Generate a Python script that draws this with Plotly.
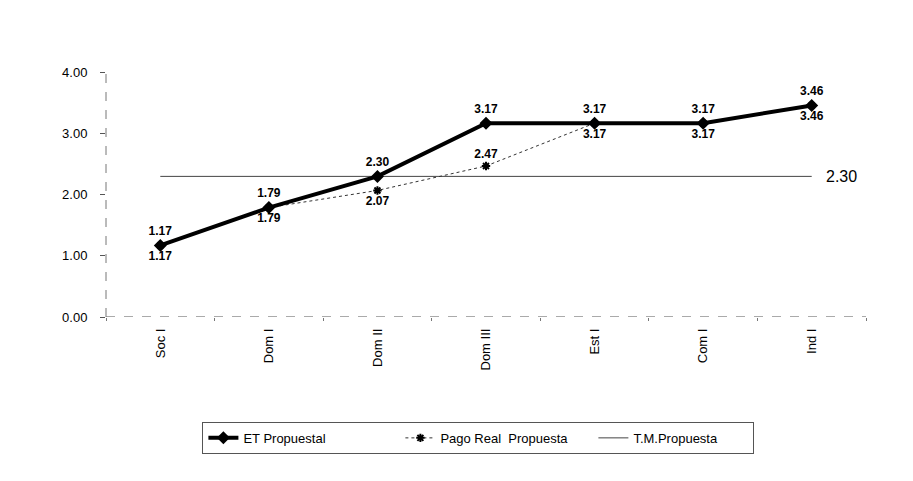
import plotly.graph_objects as go

categories = ["Soc I", "Dom I", "Dom II", "Dom III", "Est I", "Com I", "Ind I"]
et_propuesta = [1.17, 1.79, 2.30, 3.17, 3.17, 3.17, 3.46]
pago_real = [1.17, 1.79, 2.07, 2.47, 3.17, 3.17, 3.46]
tm_propuesta = [2.30, 2.30, 2.30, 2.30, 2.30, 2.30, 2.30]
y_ticks = [0, 1, 2, 3, 4]
y_tick_labels = ["0.00", "1.00", "2.00", "3.00", "4.00"]

et_pos = ["top center"] * 7
pago_pos = ["bottom center", "bottom center", "bottom center", "top center",
            "bottom center", "bottom center", "bottom center"]

FONT = "Liberation Sans, Arial, sans-serif"

fig = go.Figure()

fig.add_trace(go.Scatter(
    x=categories, y=tm_propuesta, name="T.M.Propuesta", mode="lines",
    line=dict(color="#444444", width=1), legendrank=3, legendwidth=115,
))
fig.add_trace(go.Scatter(
    x=categories, y=pago_real, name="Pago Real  Propuesta", mode="lines+markers+text",
    line=dict(color="#333333", width=1, dash="dot"),
    marker=dict(symbol="asterisk-open", size=7, color="black", line=dict(width=2, color="black")),
    text=[f"{v:.2f}" for v in pago_real], textposition=pago_pos,
    textfont=dict(family=FONT, size=12, color="black", weight="bold"), legendrank=2,
    legendwidth=148,
))
fig.add_trace(go.Scatter(
    x=categories, y=et_propuesta, name="ET Propuestal", mode="lines+markers+text",
    line=dict(color="black", width=4),
    marker=dict(symbol="diamond", size=10, color="black"),
    text=[f"{v:.2f}" for v in et_propuesta], textposition=et_pos,
    textfont=dict(family=FONT, size=12, color="black", weight="bold"), legendrank=1,
    legendwidth=152,
))

fig.add_annotation(
    x=categories[-1], y=tm_propuesta[-1], text=f"{tm_propuesta[-1]:.2f}",
    showarrow=False, xanchor="left", xshift=12,
    font=dict(family=FONT, size=16, color="black"),
)

# scanned-looking dashed axis lines
fig.add_shape(type="line", xref="paper", yref="y", x0=0, x1=1, y0=0, y1=0,
              line=dict(color="#555555", width=1, dash="dash"))
fig.add_shape(type="line", xref="paper", yref="paper", x0=0, x1=0, y0=0, y1=0.92,
              line=dict(color="#777777", width=1, dash="dash"))

fig.update_layout(
    width=913, height=481,
    margin=dict(l=98, r=55, t=40, b=172),
    paper_bgcolor="white", plot_bgcolor="white",
    font=dict(family=FONT, size=13, color="black"),
    showlegend=True,
    legend=dict(
        orientation="h", x=0.49, xanchor="center", y=-0.39, yanchor="top",
        bordercolor="#555555", borderwidth=1, bgcolor="white",
        font=dict(family=FONT, size=13, color="black"),
        itemwidth=30, traceorder="normal",
    ),
    xaxis=dict(
        range=[-0.5, 6.5], showgrid=False, zeroline=False, showline=False,
        tickangle=-90, ticks="outside", tickson="boundaries", ticklen=3,
        tickcolor="#777777", ticklabelstandoff=8,
        tickfont=dict(family=FONT, size=13),
    ),
    yaxis=dict(
        range=[0, 4.4], showgrid=False, zeroline=False, showline=False,
        tickvals=y_ticks, ticktext=y_tick_labels,
        ticks="outside", ticklen=5, tickcolor="#555555", ticklabelstandoff=10,
        tickfont=dict(family=FONT, size=13),
    ),
)

fig.write_html("out.html")
